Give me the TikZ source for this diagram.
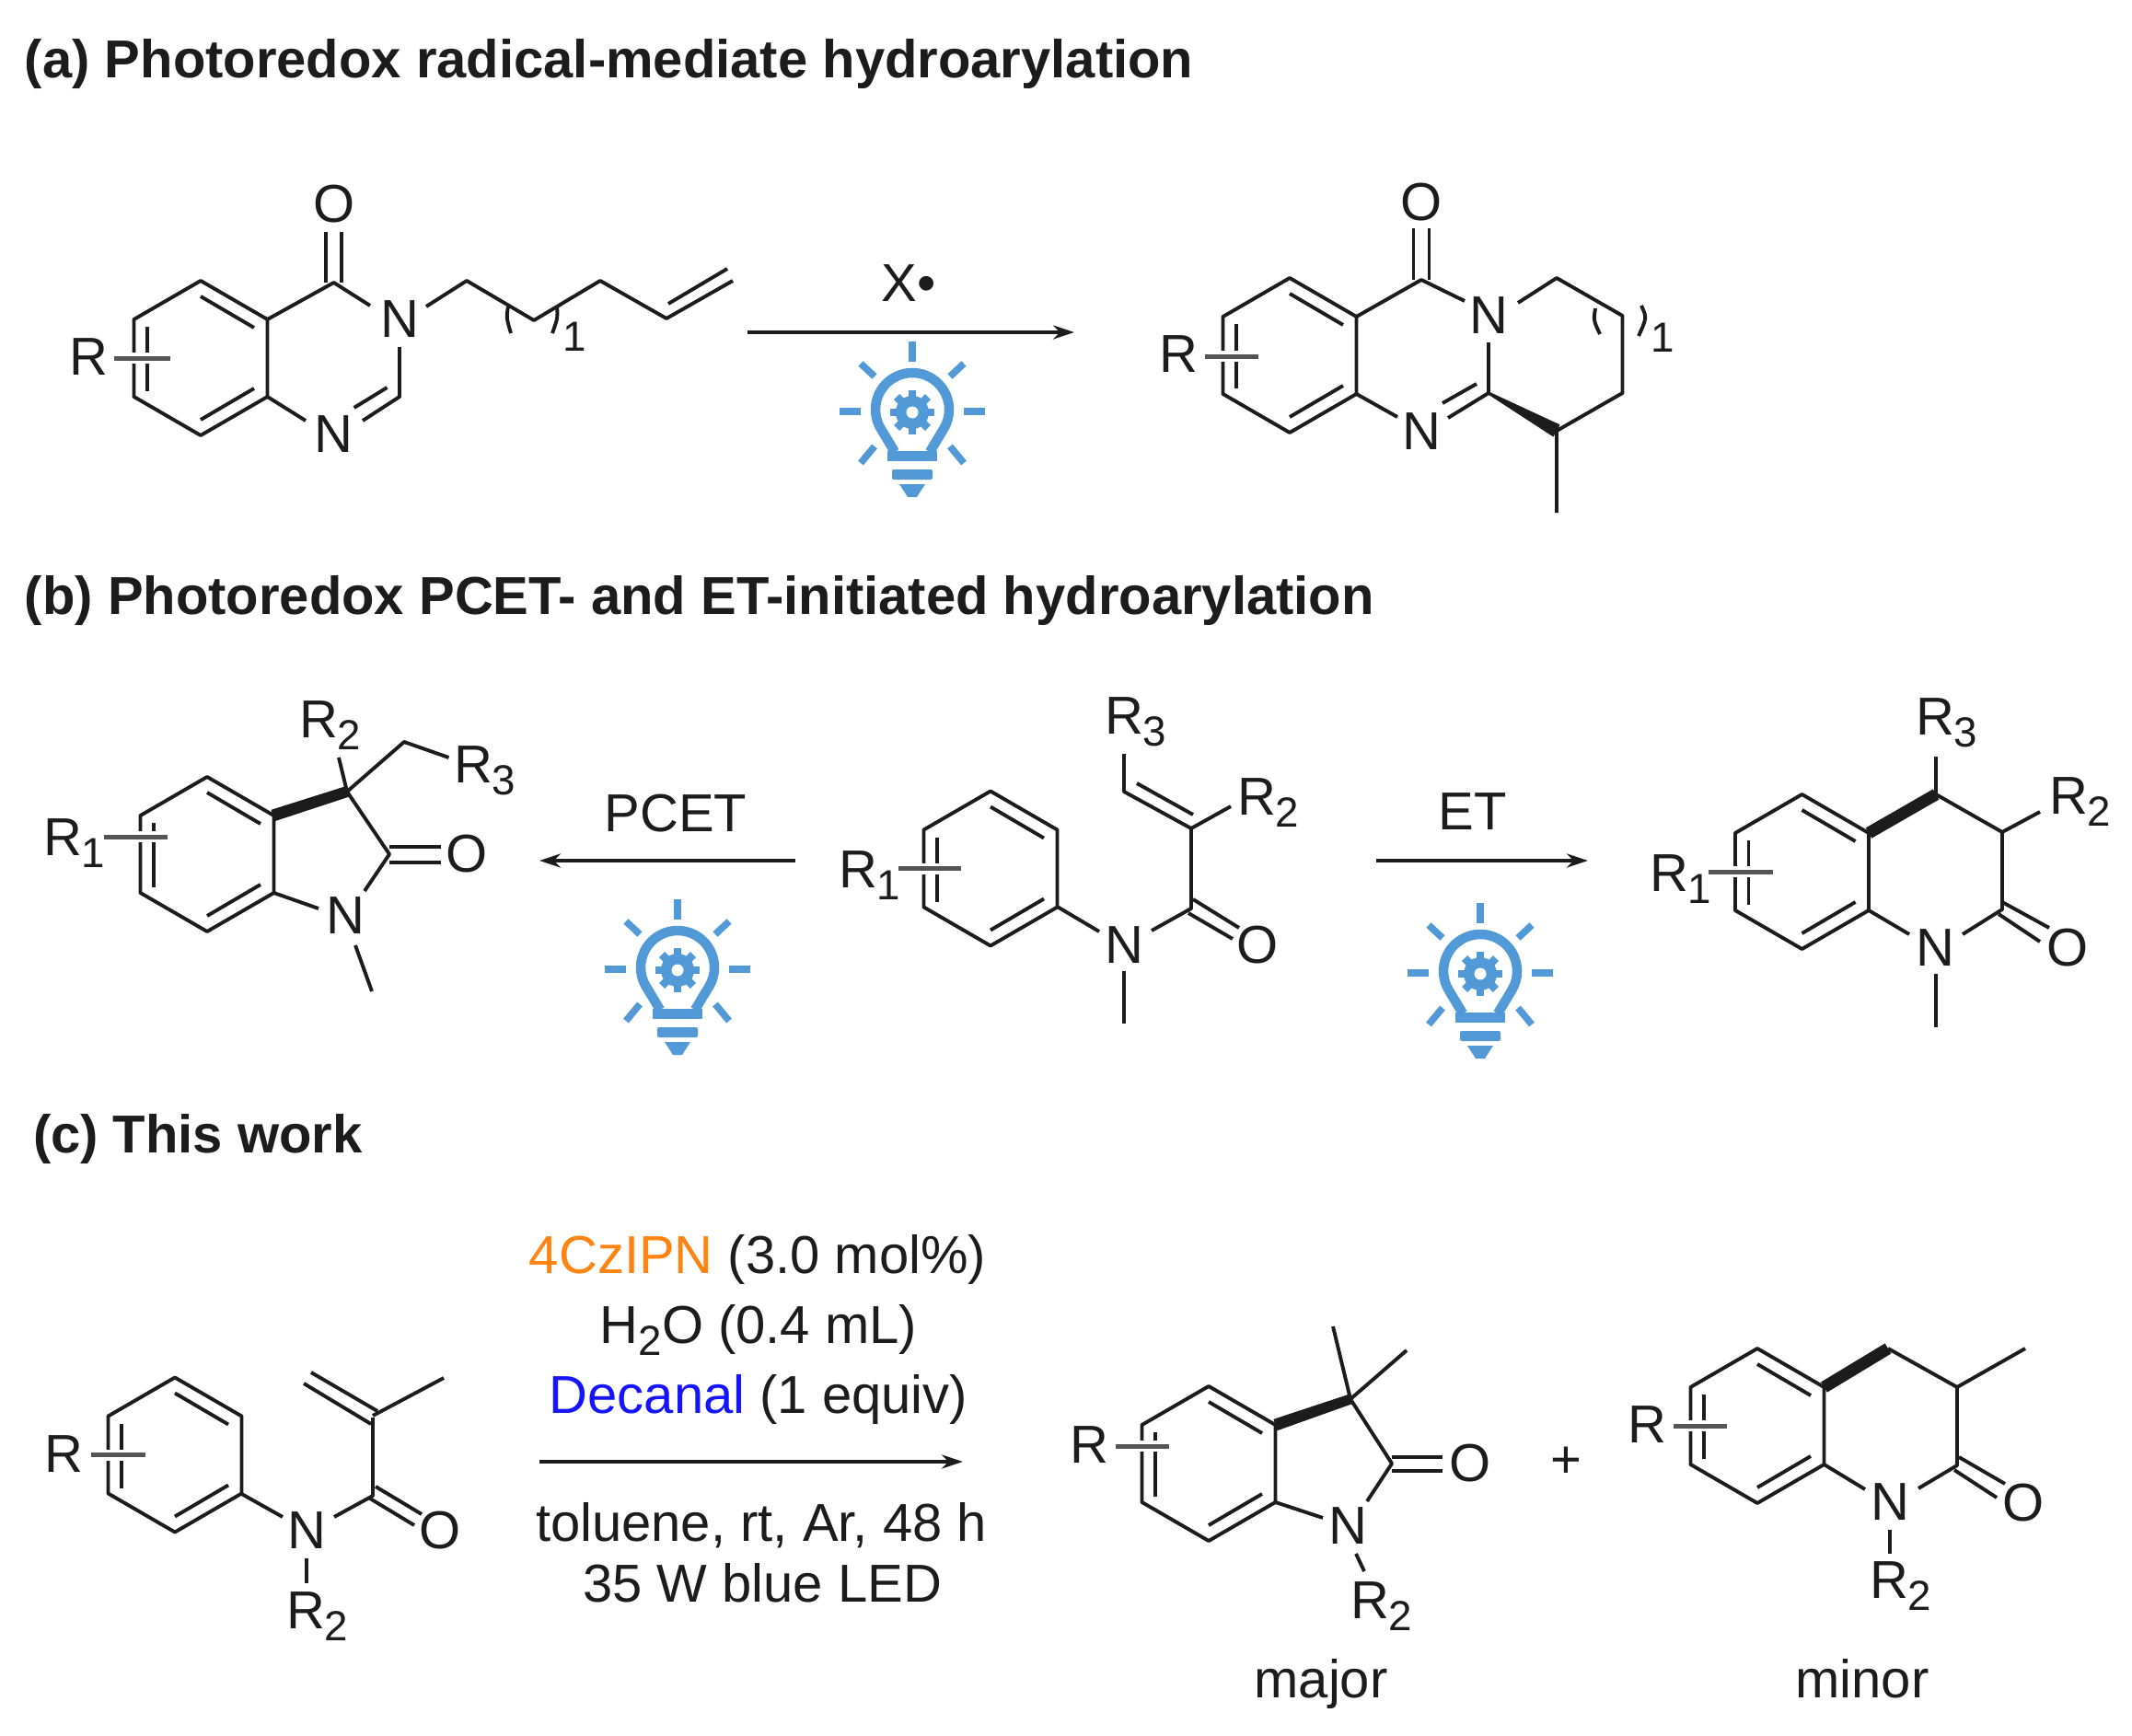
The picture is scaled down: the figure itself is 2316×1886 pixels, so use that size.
\documentclass[tikz,border=0pt]{standalone}
\usepackage{fontspec}
\setmainfont{Liberation Sans}
\usetikzlibrary{arrows.meta,calc}
\definecolor{ink}{HTML}{1C1C1C}
\definecolor{bulbblue}{HTML}{5299D8}
\definecolor{catorange}{HTML}{FF8412}
\definecolor{aldblue}{HTML}{1414FF}
\newcommand\mainsize{\fontsize{33}{36}\selectfont}
\newcommand\subsize{\fontsize{26}{28}\selectfont}
\newcommand\subdig[1]{\raisebox{-7.4pt}{\subsize #1}}
\tikzset{
  bond/.style={line width=.078cm,color=ink,line cap=butt,line join=round},
  subbond/.style={line width=.1cm,color=ink!75},
  halo/.style={line width=.24cm,color=white},
  atom/.style={inner sep=0pt,outer sep=0pt,text=ink,font=\mainsize,anchor=center},
  rlabel/.style={inner sep=0pt,outer sep=0pt,text=ink,font=\mainsize,anchor=base west},
  lab/.style={inner sep=0pt,outer sep=0pt,text=ink,font=\mainsize,anchor=base},
  titletext/.style={inner sep=0pt,outer sep=0pt,text=ink,font=\mainsize\bfseries,anchor=base west},
  rxnarrow/.style={line width=.078cm,color=ink,-{Stealth[length=.46cm,width=.3cm]}},
  glowstroke/.style={color=bulbblue,line width=.15cm}
}
% aromatic ring with the floating substituent bond across its left side
\newcommand\arring[5]{%
  \begin{scope}[shift={(#1,#2)}]
    \draw[bond] (0,-84) -- (72.5,-42) -- (72.5,42) -- (0,84) -- (-72.5,42) -- (-72.5,-42) -- cycle;
    \draw[bond] (0,-67) -- (58,-33);
    \draw[bond] (0,67) -- (58,33);
    \draw[bond] (-58,-34) -- (-58,36);
    \draw[halo] (#4,#3) -- (#5,#3);
    \draw[subbond] (#4,#3) -- (#5,#3);
  \end{scope}}
\newcommand\boldbond[6]{%
  \coordinate (bbA) at (#1,#2);
  \coordinate (bbB) at (#3,#4);
  \fill[ink] ($(bbA)!#5!90:(bbB)$) -- ($(bbA)!#5!-90:(bbB)$) -- ($(bbB)!#6!90:(bbA)$) -- ($(bbB)!#6!-90:(bbA)$) -- cycle;}
\newcommand\lightbulb[2]{%
  \begin{scope}[shift={(#1,#2)}]
    \draw[color=bulbblue,line width=.21cm] (-19,43) -- (-34.6,17) arc[start angle=210,end angle=-30,radius=.8cm] -- (19,43);
    \fill[bulbblue] (-27,42) rectangle (27,53);
    \fill[bulbblue,rounded corners=.04cm] (-22,62) rectangle (22,73);
    \fill[bulbblue] (-14,78) -- (14,78) -- (5,92) -- (-5,92) -- cycle;
    \fill[bulbblue] (0,0) circle[radius=.36cm];
    \foreach \a in {0,45,...,315} \draw[color=bulbblue,line width=.17cm] (0,0) -- (\a:24);
    \fill[white] (0,0) circle[radius=.13cm];
    \draw[glowstroke] (-79,-1) -- (-56,-1);
    \draw[glowstroke] (56,-1) -- (79,-1);
    \draw[glowstroke] (0,-77) -- (0,-55);
    \draw[glowstroke] (-56,-53) -- (-41,-39);
    \draw[glowstroke] (56,-53) -- (41,-39);
    \draw[glowstroke] (-41,37) -- (-56,55);
    \draw[glowstroke] (41,37) -- (56,55);
  \end{scope}}
\begin{document}
\begin{tikzpicture}[x=.02cm,y=-.02cm]
\useasboundingbox (0,0) rectangle (2316,1886);
\fill[white] (0,0) rectangle (2316,1886);
% titles
\node[titletext] (ta) at (27,85) {(a) Photoredox radical-mediate hydroarylation};
\node[titletext] (tb) at (27,667) {(b) Photoredox PCET- and ET-initiated hydroarylation};
\node[titletext] (tc) at (36,1252) {(c) This work};

%% (a) substrate
\arring{218}{389}{0}{-94}{-33}
\node[atom] (a1R) at (96,388) {R};
\node[atom] (a1O) at (362.6,222) {O};
\node[atom] (a1N1) at (434,347) {N};
\node[atom] (a1N2) at (362.6,472) {N};
\draw[bond] (290.5,347) -- (362.6,307) -- (402,332);
\draw[bond] (354,252) -- (354,307);
\draw[bond] (371,252) -- (371,307);
\draw[bond] (434,377) -- (434,431) -- (394,457);
\draw[bond] (420.5,421) -- (384.6,443);
\draw[bond] (290.5,431) -- (332,457);
\draw[bond] (463,333) -- (507,305) -- (580,348) -- (652,305) -- (724,346) -- (796,305);
\draw[bond] (726,330) -- (790,292);
\draw[bond] (552,333) .. controls (550,345) .. (555,362);
\draw[bond] (605,333) .. controls (606,345) .. (600,362);
\node[lab,font=\subsize] (a1n) at (624,381) {1};
%% (a) arrow
\coordinate (aS) at (812,361);
\coordinate (aE) at (1167,361);
\draw[rxnarrow] (aS) -- (aE);
\node[lab] (aX) at (987,327) {X•};
\lightbulb{991}{448}
%% (a) product
\arring{1401}{386}{1}{-92}{-34}
\node[atom] (a2R) at (1280,385) {R};
\node[atom] (a2O) at (1544,220) {O};
\node[atom] (a2N1) at (1617,343) {N};
\node[atom] (a2N2) at (1544,469) {N};
\draw[bond] (1473.5,344) -- (1544,304) -- (1591,327);
\draw[bond] (1535.5,248) -- (1535.5,304);
\draw[bond] (1552.5,248) -- (1552.5,304);
\draw[bond] (1617,372) -- (1617,427) -- (1573,454);
\draw[bond] (1604,417) -- (1567,438);
\draw[bond] (1473.5,428) -- (1518,453);
\draw[bond] (1649,329) -- (1691,302) -- (1762.5,343) -- (1762.5,427) -- (1691,468) -- (1691,557);
\boldbond{1617}{427}{1691}{468}{.03cm}{.15cm}
\draw[bond] (1733,335) .. controls (1731,348) .. (1738,363);
\draw[bond] (1783,332) .. controls (1789,345) .. (1780,365);
\node[lab,font=\subsize] (a2n) at (1806,382) {1};

%% (b) left product
\arring{225}{928}{-19}{-112.5}{-43}
\node[rlabel] (b1R1) at (47,929) {R\subdig{1}};
\node[atom] (b1O) at (507,928) {O};
\node[atom] (b1N) at (375,995) {N};
\boldbond{296.5}{886}{377}{860}{.13cm}{.12cm}
\draw[bond] (377,860) -- (423,928) -- (396,968);
\draw[bond] (423,920) -- (478.6,920);
\draw[bond] (423,937) -- (478.6,937);
\draw[bond] (297.5,970) -- (346,987);
\draw[bond] (386,1027) -- (404,1077);
\draw[bond] (377,860) -- (368,823);
\draw[bond] (377,860) -- (439,806) -- (487.5,823);
\node[rlabel] (b1R2) at (325,801) {R\subdig{2}};
\node[rlabel] (b1R3) at (493,850) {R\subdig{3}};
%% (b) arrows
\coordinate (pS) at (864,935);
\coordinate (pE) at (586,935);
\draw[rxnarrow] (pS) -- (pE);
\node[lab] (pT) at (734,903) {PCET};
\lightbulb{736}{1054}
\coordinate (eS) at (1495,935);
\coordinate (eE) at (1725,935);
\draw[rxnarrow] (eS) -- (eE);
\node[lab] (eT) at (1600,901) {ET};
\lightbulb{1608}{1058}
%% (b) centre
\arring{1076}{943.5}{0}{-100}{-32}
\node[rlabel] (b2R1) at (911,964) {R\subdig{1}};
\node[atom] (b2N) at (1221,1027) {N};
\node[atom] (b2O) at (1366,1027) {O};
\draw[bond] (1148.5,985) -- (1194,1012);
\draw[bond] (1221,1055) -- (1221,1112);
\draw[bond] (1251,1011) -- (1294,987) -- (1294,900) -- (1221,860) -- (1221,819);
\draw[bond] (1296,977) -- (1346,1008);
\draw[bond] (1291,992) -- (1339,1020);
\draw[bond] (1294,900) -- (1337,876);
\draw[bond] (1296,885) -- (1235,851);
\node[rlabel] (b2R2) at (1344,885) {R\subdig{2}};
\node[rlabel] (b2R3) at (1200,797) {R\subdig{3}};
%% (b) right product
\arring{1957.5}{947}{0}{-101.5}{-31.5}
\node[rlabel] (b3R1) at (1792,968) {R\subdig{1}};
\node[atom] (b3N) at (2102,1030) {N};
\node[atom] (b3O) at (2246,1030) {O};
\boldbond{2030}{905}{2103}{863}{.13cm}{.13cm}
\draw[bond] (2103,863) -- (2175,904) -- (2175,988) -- (2132,1015);
\draw[bond] (2030,989) -- (2074,1015);
\draw[bond] (2175,980) -- (2226,1008);
\draw[bond] (2171,993) -- (2216,1023);
\draw[bond] (2103,1058) -- (2103,1116);
\draw[bond] (2103,863) -- (2103,822);
\draw[bond] (2175,904) -- (2216,882);
\node[rlabel] (b3R3) at (2081,798) {R\subdig{3}};
\node[rlabel] (b3R2) at (2226,884) {R\subdig{2}};

%% (c) substrate
\arring{190}{1580.5}{0}{-91}{-32}
\node[atom] (c1R) at (69,1580) {R};
\node[atom] (c1N) at (333,1663) {N};
\node[atom] (c1O) at (478,1663) {O};
\draw[bond] (262.5,1623) -- (307,1648);
\draw[bond] (363,1648) -- (405,1625) -- (405,1540);
\draw[bond] (408,1615) -- (458,1645);
\draw[bond] (402,1628) -- (450,1657);
\draw[bond] (405,1538) -- (482,1497);
\draw[bond] (410,1533) -- (338,1491);
\draw[bond] (403,1547) -- (330,1503);
\draw[bond] (333,1693) -- (333,1720);
\node[rlabel] (c1R2) at (311,1769) {R\subdig{2}};
%% (c) arrow and conditions
\coordinate (cS) at (586,1588);
\coordinate (cE) at (1046,1588);
\draw[rxnarrow] (cS) -- (cE);
\node[lab] (cond1) at (823,1383) {\textcolor{catorange}{4CzIPN} (3.0 mol\%)};
\node[lab] (cond2) at (824,1459) {H\subdig{2}O (0.4 mL)};
\node[lab] (cond3) at (824,1535) {\textcolor{aldblue}{Decanal} (1 equiv)};
\node[lab] (cond4) at (827,1674) {toluene, rt, Ar, 48 h};
\node[lab] (cond5) at (828,1740) {35 W blue LED};
%% (c) major
\arring{1313}{1590}{-19}{-101}{-43}
\node[atom] (c2R) at (1183,1570) {R};
\node[atom] (c2O) at (1597,1590) {O};
\node[atom] (c2N) at (1464,1658) {N};
\boldbond{1385.5}{1548}{1467}{1520}{.13cm}{.11cm}
\draw[bond] (1467,1520) -- (1512,1590) -- (1485,1631);
\draw[bond] (1512,1583) -- (1567,1583);
\draw[bond] (1512,1598) -- (1567,1598);
\draw[bond] (1385.5,1632) -- (1437,1649);
\draw[bond] (1473,1688) -- (1482,1707);
\draw[bond] (1467,1520) -- (1448,1441);
\draw[bond] (1467,1520) -- (1528,1467);
\node[rlabel] (c2R2) at (1467,1758) {R\subdig{2}};
\node[lab] (major) at (1435,1844) {major};
\node[atom] (plus) at (1701,1589) {+};
%% (c) minor
\arring{1909}{1549}{0}{-91.5}{-33}
\node[atom] (c3R) at (1789,1548) {R};
\node[atom] (c3O) at (2198,1633) {O};
\node[atom] (c3N) at (2053,1632) {N};
\boldbond{1981.5}{1507}{2051}{1465}{.13cm}{.13cm}
\draw[bond] (2051,1465) -- (2126,1507) -- (2200,1465);
\draw[bond] (2126,1507) -- (2126,1592) -- (2084,1617);
\draw[bond] (1981.5,1591) -- (2026,1618);
\draw[bond] (2128,1583) -- (2178,1612);
\draw[bond] (2123,1597) -- (2169,1627);
\draw[bond] (2053,1662) -- (2053,1688);
\node[rlabel] (c3R2) at (2031,1736) {R\subdig{2}};
\node[lab] (minor) at (2023,1844) {minor};
\end{tikzpicture}
\end{document}
